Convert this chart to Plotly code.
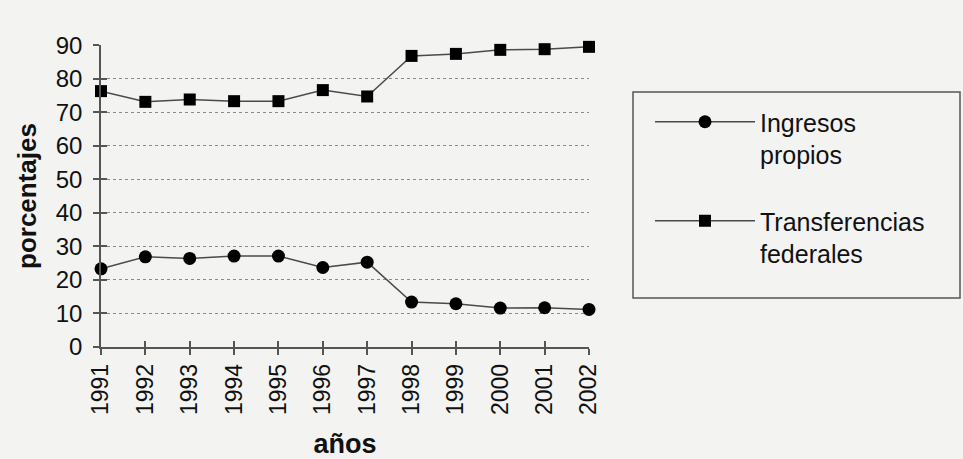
import plotly.graph_objects as go

years = [1991, 1992, 1993, 1994, 1995, 1996, 1997, 1998, 1999, 2000, 2001, 2002]
ingresos_propios = [23.3, 26.9, 26.4, 27.1, 27.1, 23.7, 25.3, 13.4, 12.9, 11.6, 11.7, 11.2]
transferencias_federales = [76.3, 73.1, 73.8, 73.3, 73.3, 76.6, 74.7, 86.8, 87.4, 88.6, 88.8, 89.5]
series_names = ["Ingresos<br>propios", "Transferencias<br>federales"]
y_ticks = [0, 10, 20, 30, 40, 50, 60, 70, 80, 90]

FONT = "Liberation Sans, Arial, sans-serif"
BG = "#f3f3f1"
INK = "#111111"
LINE = "#4a4a4a"

fig = go.Figure()
fig.add_trace(go.Scatter(
    x=years, y=ingresos_propios, name=series_names[0], mode="lines+markers",
    line=dict(color=LINE, width=1.5),
    marker=dict(symbol="circle", size=13, color="#000000"),
    cliponaxis=False, legendgroup="a",
))
fig.add_trace(go.Scatter(
    x=years, y=transferencias_federales, name=series_names[1], mode="lines+markers",
    line=dict(color=LINE, width=1.5),
    marker=dict(symbol="square", size=12, color="#000000"),
    cliponaxis=False, legendgroup="b",
))
# invisible trace to activate overlay axes (for crossing tick marks)
fig.add_trace(go.Scatter(x=[years[0]], y=[0], xaxis="x2", yaxis="y2",
                         mode="markers", marker=dict(opacity=0), showlegend=False,
                         hoverinfo="skip"))

fig.update_layout(
    width=963, height=459,
    margin=dict(l=101, r=374, t=45, b=112),
    paper_bgcolor=BG, plot_bgcolor=BG,
    font=dict(family=FONT, color=INK, size=23),
    showlegend=True,
    legend=dict(
        x=(650 - 101) / 488, y=(347 - 99) / 302, xanchor="left", yanchor="top",
        bgcolor="rgba(0,0,0,0)", borderwidth=0,
        font=dict(family=FONT, size=25, color=INK),
        itemwidth=100, valign="top", tracegroupgap=31,
    ),
    xaxis=dict(
        range=[1991, 2002], tickmode="array", tickvals=years,
        ticktext=[str(y) for y in years], tickangle=-90,
        tickfont=dict(size=23), showgrid=False, zeroline=False,
        showline=True, linecolor="#555555", linewidth=1.5,
        ticks="outside", ticklen=6, tickcolor="#555555", tickwidth=1.5,
        automargin=False,
        title=dict(text="<b>años</b>", font=dict(size=27), standoff=23),
    ),
    yaxis=dict(
        range=[0, 90.05], tickmode="array", tickvals=y_ticks,
        tickfont=dict(size=24), showgrid=True, gridcolor="#8a8a8a",
        gridwidth=1, griddash="3px,3px", zeroline=False,
        showline=True, linecolor="#555555", linewidth=1.5,
        ticks="outside", ticklen=6, tickcolor="#555555", tickwidth=1.5,
        ticklabelstandoff=6, automargin=False,
        title=dict(text="<b>porcentajes</b>", font=dict(size=26), standoff=12),
    ),
    xaxis2=dict(overlaying="x", anchor="y", range=[1991, 2002], tickmode="array",
                tickvals=years, showticklabels=False, ticks="inside", ticklen=6,
                tickcolor="#555555", tickwidth=1.5, showgrid=False, zeroline=False,
                showline=False, side="bottom", automargin=False),
    yaxis2=dict(overlaying="y", anchor="x", range=[0, 90.05], tickmode="array",
                tickvals=y_ticks, showticklabels=False, ticks="inside", ticklen=6,
                tickcolor="#555555", tickwidth=1.5, showgrid=False, zeroline=False,
                showline=False, side="left", automargin=False),
    shapes=[dict(type="rect", xref="paper", yref="paper",
                 x0=(633 - 101) / 488, x1=(960 - 101) / 488,
                 y0=(347 - 298) / 302, y1=(347 - 92) / 302,
                 line=dict(color="#555555", width=1.5), fillcolor="rgba(0,0,0,0)")],
)

fig.write_html(
    "out.html",
    config={"displayModeBar": False},
    post_script="document.body.style.margin='0';document.body.style.background='#f3f3f1';",
)
